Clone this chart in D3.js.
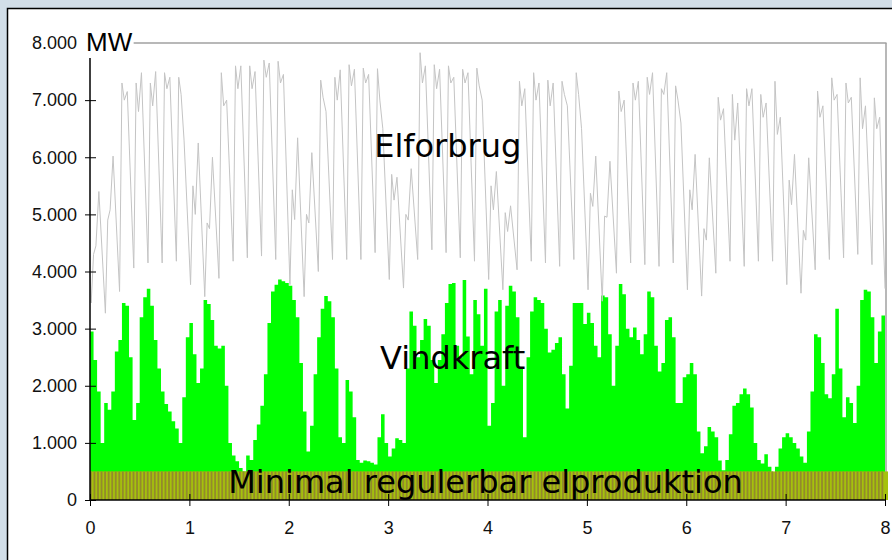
<!DOCTYPE html>
<html>
<head>
<meta charset="utf-8">
<script src="https://cdn.jsdelivr.net/npm/d3@7"></script>
<style>
  body { margin: 0; background: #d2dee8; }
  svg { display: block; }
</style>
</head>
<body>
<div id="chart"></div>
<script>
// x axis: weeks, y axis: MW
var weekTicks = [0, 1, 2, 3, 4, 5, 6, 7, 8];
var mwTicks = [0, 1000, 2000, 3000, 4000, 5000, 6000, 7000, 8000];

// Elforbrug, read per day: night low, morning top, midday dip, afternoon top
var hoursOfDay = [2, 6, 10, 15];
var consumptionStart = 3970;
var consumptionEnd = 3700;
var dayLow = [3450, 3270, 3650, 4060, 4150, 4150, 4180, 3770, 3560, 3880, 4180, 4240, 4270, 4210,
  3770, 3560, 4000, 4210, 4210, 4210, 4330, 3860, 3710, 4210, 4380, 4330, 4240, 4180,
  3860, 3680, 4030, 4180, 4150, 4090, 4210, 3680, 3480, 3970, 4150, 4120, 4090, 4150,
  3680, 3570, 3970, 4180, 4090, 4180, 4180, 3770, 3620, 4030, 4210, 4240, 4300, 4120];
var dayMorning = [4300, 4900, 7300, 7300, 7300, 7480, 7400, 5500, 4850, 7480, 7600, 7600, 7700, 7680,
  5430, 5000, 7350, 7400, 7620, 7560, 7550, 5700, 5000, 7830, 7620, 7600, 7540, 7560,
  5500, 5030, 7330, 7480, 7350, 7330, 7480, 5370, 4970, 7160, 7300, 7400, 7200, 7250,
  5430, 4750, 7050, 7100, 7200, 7100, 7330, 5600, 4720, 7160, 7390, 7300, 7390, 7040];
var dayDip = [4450, 5080, 7000, 6800, 6900, 7200, 7100, 5000, 4750, 6900, 7200, 7200, 7400, 7300,
  4910, 4850, 7050, 7000, 7250, 7300, 7000, 5250, 4900, 7300, 7200, 7300, 7300, 7250,
  5080, 4700, 6900, 7000, 6900, 7100, 7100, 5140, 4950, 6800, 7000, 7100, 7100, 7000,
  5080, 4550, 6650, 6300, 6900, 6700, 6400, 5170, 4550, 6700, 7000, 6950, 6500, 6500];
var dayAfternoon = [5400, 6020, 7150, 7480, 7500, 7400, 6300, 6250, 6000, 7000, 7600, 7500, 7650, 7450,
  6340, 6080, 6800, 7530, 7540, 7450, 6500, 5650, 5800, 7600, 7540, 7400, 7480, 7000,
  5750, 5150, 7200, 7300, 7300, 6900, 6500, 6020, 5930, 7000, 7330, 7480, 7480, 6600,
  6050, 5990, 6850, 6950, 7200, 6950, 6700, 6050, 5990, 6900, 7100, 7050, 6900, 6700];

// Vindkraft, one value per 6 hours
var wind6h = [2950, 2450, 1900, 1000, 1700, 1580, 1900, 2600, 2800, 3450, 3400, 2500, 1400, 1700,
  3200, 3550, 3700, 3400, 2800, 2300, 1900, 1680, 1550, 1380, 1250, 1000, 1800, 2850,
  3100, 2550, 2050, 2300, 3500, 3430, 3150, 2700, 2650, 2700, 2000, 1000, 780, 680,
  560, 500, 780, 700, 1050, 1320, 1650, 2200, 3100, 3650, 3770, 3860, 3830, 3800,
  3750, 3500, 3200, 2400, 1550, 850, 1300, 2200, 2850, 3350, 3570, 3480, 3200, 2300,
  1100, 1000, 2100, 1900, 1450, 700, 650, 690, 680, 650, 620, 1100, 1500, 1000,
  760, 900, 1080, 1050, 1000, 2300, 3300, 3050, 2500, 2800, 3170, 3050, 2450, 2050,
  2450, 2900, 3450, 3780, 3800, 2700, 2500, 3850, 2860, 2200, 3500, 3250, 2700, 3700,
  1300, 1700, 3300, 3500, 2000, 3400, 3750, 3650, 3200, 2300, 1100, 2500, 3300, 3550,
  3500, 3450, 3000, 2580, 2630, 2750, 2850, 2200, 1600, 2350, 3450, 3450, 3450, 3080,
  3280, 3100, 2700, 2500, 3580, 3550, 2900, 2000, 2700, 3780, 3600, 3000, 2850, 3020,
  2800, 2550, 2900, 3650, 3550, 2700, 2250, 2400, 3150, 3200, 2850, 1700, 1700, 2150,
  2200, 2400, 2200, 1200, 820, 940, 1280, 1200, 1100, 690, 520, 700, 1150, 1650,
  1700, 1850, 1950, 1850, 1620, 1000, 700, 640, 800, 580, 480, 580, 900, 1100,
  1170, 1100, 1000, 900, 760, 650, 1200, 1900, 2900, 2850, 2400, 1850, 1780, 2200,
  3350, 2300, 1450, 1800, 1700, 1350, 2000, 3500, 3680, 3650, 3200, 2400, 2950, 3230];

var minRegulerbar = 500;

const width = 892;
const height = 560;

const svg = d3
  .select("#chart")
  .append("svg")
  .attr("width", width)
  .attr("height", height);

// outer panel
svg.append("rect").attr("width", width).attr("height", height).attr("fill", "#d2dee8");
svg
  .append("rect")
  .attr("x", 7.5)
  .attr("y", 8.5)
  .attr("width", width)
  .attr("height", height)
  .attr("fill", "#fff")
  .attr("stroke", "#000")
  .attr("stroke-width", 1.5);

const x = d3.scaleLinear().domain([0, 8]).range([90, 885]);
const y = d3.scaleLinear().domain([0, 8000]).range([500, 43]);

const dk = d3.formatLocale({ decimal: ",", thousands: ".", grouping: [3], currency: ["", " kr."] });
const fmt = dk.format(",");

// plot frame (grey, right side), under the data
svg
  .append("line")
  .attr("x1", x(8) + 1)
  .attr("x2", x(8) + 1)
  .attr("y1", y(8000))
  .attr("y2", y(0))
  .attr("stroke", "#a0a0a0")
  .attr("stroke-width", 1.5);

// wind as bars, 6 hour steps
var windPts = wind6h.map(function (v, i) {
  return [i / 28, v];
});
windPts.push([8, wind6h[wind6h.length - 1]]);

svg
  .append("path")
  .datum(windPts)
  .attr("fill", "#00ff00")
  .attr(
    "d",
    d3
      .area()
      .x(function (d) { return x(d[0]); })
      .y0(y(0))
      .y1(function (d) { return y(d[1]); })
      .curve(d3.curveStepAfter)
  );

// minimal regulerbar band, striped like the original bars
svg
  .append("rect")
  .attr("x", x(0))
  .attr("y", y(minRegulerbar))
  .attr("width", x(8) - x(0) + 3)
  .attr("height", y(0) - y(minRegulerbar))
  .attr("fill", "#a5c20c");

svg
  .append("g")
  .selectAll("rect")
  .data(wind6h)
  .enter()
  .append("rect")
  .attr("x", function (d, i) { return x(i / 28); })
  .attr("y", y(minRegulerbar))
  .attr("width", 1.8)
  .attr("height", y(0) - y(minRegulerbar))
  .attr("fill", "#938a2c");

// consumption line
var consPts = [[0, consumptionStart]];
dayLow.forEach(function (v, k) {
  var vals = [dayLow[k], dayMorning[k], dayDip[k], dayAfternoon[k]];
  hoursOfDay.forEach(function (h, j) {
    consPts.push([(k + h / 24) / 7, vals[j]]);
  });
});
consPts.push([8, consumptionEnd]);

svg
  .append("path")
  .datum(consPts)
  .attr("fill", "none")
  .attr("stroke", "#c4c4c4")
  .attr("stroke-width", 1)
  .attr(
    "d",
    d3
      .line()
      .x(function (d) { return x(d[0]); })
      .y(function (d) { return y(d[1]); })
  );

// axes
const yAxis = svg
  .append("g")
  .attr("transform", "translate(" + x(0) + ",0)")
  .call(d3.axisLeft(y).tickValues(mwTicks).tickSize(5).tickPadding(8).tickFormat(fmt));
yAxis.select(".domain").remove();
yAxis.selectAll(".tick line").attr("x1", 6).attr("stroke", "#000");
yAxis.selectAll(".tick").filter(function (d) { return d === 8000; }).select("line").remove();
yAxis
  .selectAll("text")
  .attr("font-family", "Liberation Sans, Arial, sans-serif")
  .attr("font-size", 18)
  .attr("fill", "#111");
yAxis
  .append("line")
  .attr("y1", y(8000) + 15)
  .attr("y2", y(0))
  .attr("stroke", "#000")
  .attr("stroke-width", 1.5);

const xAxis = svg
  .append("g")
  .attr("transform", "translate(0," + y(0) + ")")
  .call(d3.axisBottom(x).tickValues(weekTicks).tickSize(6).tickPadding(15));
xAxis.select(".domain").remove();
xAxis.selectAll(".tick line").attr("y1", -6).attr("stroke", "#000");
xAxis
  .selectAll("text")
  .attr("font-family", "Liberation Sans, Arial, sans-serif")
  .attr("font-size", 18)
  .attr("fill", "#111");
xAxis
  .append("line")
  .attr("x1", x(0))
  .attr("x2", x(8) + 1)
  .attr("stroke", "#000")
  .attr("stroke-width", 1.5);

// MW unit label and grey top frame line after it
const mw = svg
  .append("text")
  .attr("x", x(0) - 4)
  .attr("y", y(8000) + 8)
  .attr("font-family", "Liberation Sans, Arial, sans-serif")
  .attr("font-size", 26)
  .attr("fill", "#000")
  .text("MW");
const mwBox = mw.node().getBBox();
svg
  .append("line")
  .attr("x1", mwBox.x + mwBox.width + 1)
  .attr("x2", x(8) + 1.5)
  .attr("y1", y(8000))
  .attr("y2", y(8000))
  .attr("stroke", "#a0a0a0")
  .attr("stroke-width", 1.5);

// series labels
var labels = [
  { text: "Elforbrug", t: 3.6, v: 6000 },
  { text: "Vindkraft", t: 3.65, v: 2300 },
  { text: "Minimal regulerbar elproduktion", t: 3.98, v: 120 },
];
svg
  .selectAll(".lbl")
  .data(labels)
  .enter()
  .append("text")
  .attr("class", "lbl")
  .attr("x", function (d) { return x(d.t); })
  .attr("y", function (d) { return y(d.v); })
  .attr("text-anchor", "middle")
  .attr("font-family", "DejaVu Sans, Verdana, sans-serif")
  .attr("font-size", 32)
  .attr("fill", "#000")
  .text(function (d) { return d.text; });
</script>
</body>
</html>
